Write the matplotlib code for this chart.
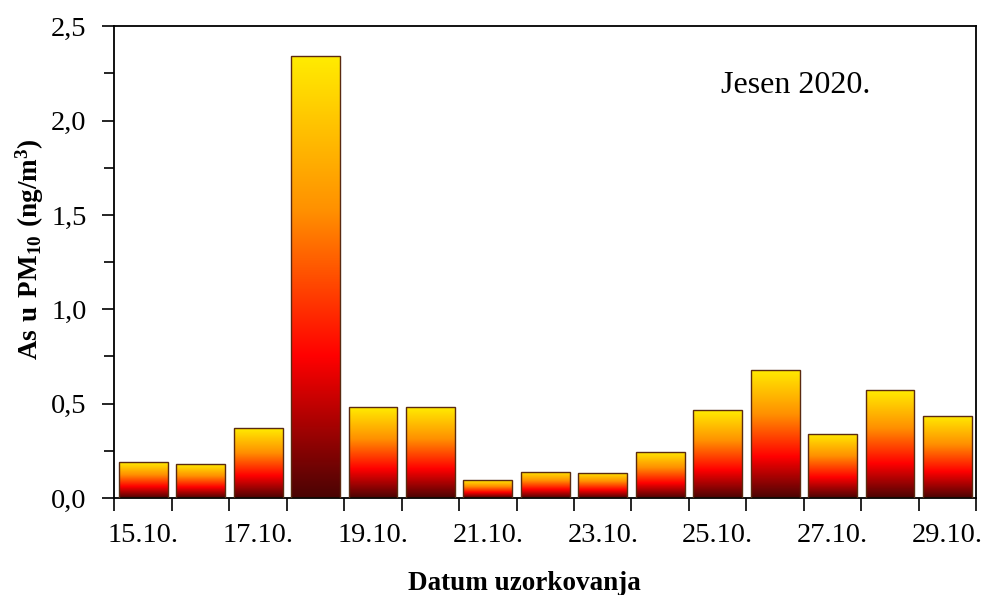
import numpy as np
import matplotlib
matplotlib.use('Agg')
import matplotlib.pyplot as plt
from matplotlib.colors import LinearSegmentedColormap
from matplotlib.ticker import FixedLocator, FuncFormatter, MultipleLocator

plt.rcParams['font.family'] = ['Liberation Serif', 'DejaVu Serif']
plt.rcParams['mathtext.fontset'] = 'custom'
plt.rcParams['mathtext.rm'] = 'Liberation Serif'
plt.rcParams['mathtext.bf'] = 'Liberation Serif:bold'

# sampling dates and arsenic in PM10 (ng/m3)
dates = ['15.10.', '16.10.', '17.10.', '18.10.', '19.10.', '20.10.', '21.10.',
         '22.10.', '23.10.', '24.10.', '25.10.', '26.10.', '27.10.', '28.10.',
         '29.10.']
arsenic = [0.19, 0.18, 0.37, 2.34, 0.48, 0.48, 0.095, 0.14, 0.135, 0.245,
           0.465, 0.68, 0.34, 0.57, 0.435]

# dark red -> red -> orange -> yellow, stretched over every bar
heat = LinearSegmentedColormap.from_list(
    'heat', [(0.0, '#4a0404'), (0.32, '#ff0000'), (0.65, '#ff9000'),
             (1.0, '#ffec00')])
grad = np.linspace(0, 1, 256).reshape(-1, 1)

fig = plt.figure(figsize=(9.87, 5.95), dpi=100)
ax = fig.add_axes([0.116, 0.163, 0.873, 0.793])

x = np.arange(len(dates))
bars = ax.bar(x, arsenic, width=0.85, facecolor='none',
              edgecolor='#5a2a10', linewidth=1.0, zorder=3)
for rect in bars:
    x0, w, h = rect.get_x(), rect.get_width(), rect.get_height()
    im = ax.imshow(grad, cmap=heat, origin='lower', aspect='auto',
                   extent=[x0, x0 + w, 0, h], zorder=2)
    im.set_clip_path(rect)

ax.set_xlim(-0.5, len(dates) - 0.5)
ax.set_ylim(0, 2.5)

# ticks sit on the bar boundaries, labels under every second bar
ax.xaxis.set_major_locator(FixedLocator(np.arange(-0.5, len(dates), 1.0)))
ax.xaxis.set_major_formatter(FuncFormatter(lambda v, p: ''))
ax.xaxis.set_minor_locator(FixedLocator(x[::2]))
ax.set_xticklabels(dates[::2], minor=True)
ax.tick_params(axis='x', which='major', direction='out', length=9, width=1.2)
ax.tick_params(axis='x', which='minor', length=0, pad=18, labelsize=20.5)

ax.yaxis.set_major_locator(MultipleLocator(0.5))
ax.yaxis.set_minor_locator(MultipleLocator(0.25))
ax.yaxis.set_major_formatter(FuncFormatter(lambda v, p: f'{v:.1f}'.replace('.', ',')))
ax.tick_params(axis='y', which='major', direction='out', length=9, width=1.2,
               pad=11, labelsize=20.5)
ax.tick_params(axis='y', which='minor', direction='out', length=7, width=1.2)

for sp in ax.spines.values():
    sp.set_linewidth(1.3)

ax.set_xlabel('Datum uzorkovanja', fontsize=19.5, fontweight='bold')
ax.xaxis.set_label_coords(0.476, -0.155)
ax.set_ylabel(r'$\mathbf{As\ u\ PM_{10}\ (ng/m^3)}$', fontsize=19.5)
ax.yaxis.set_label_coords(-0.08, 0.527)

ax.text(0.79, 0.875, 'Jesen 2020.', transform=ax.transAxes, fontsize=23,
        ha='center', va='center')

fig.savefig('out.png', dpi=100)
